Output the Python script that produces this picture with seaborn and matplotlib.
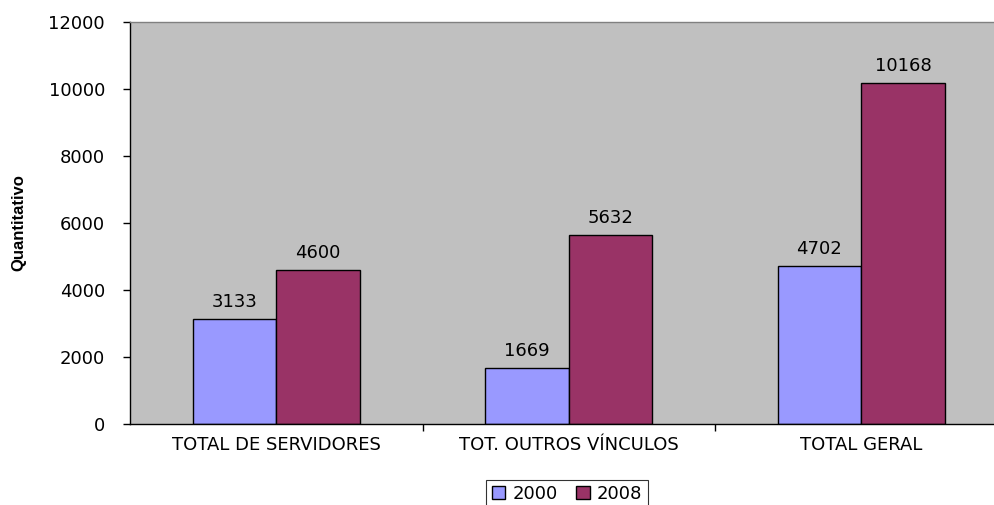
import matplotlib
matplotlib.use("Agg")
import matplotlib.pyplot as plt
import seaborn as sns
import pandas as pd

categories = ["TOTAL DE SERVIDORES", "TOT. OUTROS VÍNCULOS", "TOTAL GERAL"]
years = ["2000", "2008"]
values_2000 = [3133, 1669, 4702]
values_2008 = [4600, 5632, 10168]
colors = ["#9999FF", "#993366"]

df = pd.DataFrame({
    "cat": categories * 2,
    "year": [years[0]] * 3 + [years[1]] * 3,
    "val": values_2000 + values_2008,
})

sns.set_style("white")
plt.rcParams["font.family"] = ["DejaVu Sans"]
plt.rcParams["text.color"] = "black"

FS = 13

fig = plt.figure(figsize=(9.94, 5.05), dpi=100)
ax = fig.add_axes([130 / 994, 1 - 424 / 505, 877.5 / 994, 402 / 505])
ax.set_facecolor("#C0C0C0")

sns.barplot(data=df, x="cat", y="val", hue="year", palette=colors, width=0.572,
            edgecolor="black", linewidth=1.0, saturation=1, ax=ax, legend=True)

for cont in ax.containers:
    ax.bar_label(cont, labels=[f"{int(v)}" for v in cont.datavalues], padding=6,
                 fontsize=FS, color="black")

ax.set_xlim(-0.5, 2.5)
ax.set_ylim(0, 12000)
ax.set_yticks(range(0, 12001, 2000))
ax.tick_params(axis="y", labelsize=FS, length=5, width=1, color="black", direction="out",
               left=True, labelcolor="black", pad=13)
ax.tick_params(axis="x", labelsize=FS, length=0, pad=9, labelcolor="black")
ax.set_xticks([0.5, 1.5], minor=True)
ax.tick_params(axis="x", which="minor", length=5, width=1, color="black", direction="out", bottom=True)
ax.set_xlabel("")
ax.set_ylabel("Quantitativo", fontsize=12, fontweight="bold",
              family="Liberation Sans", color="black")
ax.yaxis.set_label_coords((26 - 130) / 877.5, 0.5 + (424 - 223 - 201) / 402)

for s in ["left", "bottom"]:
    ax.spines[s].set_color("black")
    ax.spines[s].set_linewidth(1.0)
ax.spines["top"].set_color("#808080")
ax.spines["top"].set_linewidth(1.0)
ax.spines["right"].set_visible(False)

handles, labels = ax.get_legend_handles_labels()
ax.legend(handles, labels, loc="center", bbox_to_anchor=(567 / 994, 1 - 494 / 505),
          bbox_transform=fig.transFigure, ncol=2, frameon=True, fancybox=False,
          edgecolor="black", fontsize=FS, handlelength=0.75, handleheight=0.75,
          handletextpad=0.4, columnspacing=1.0, borderpad=0.3, borderaxespad=0)
leg = ax.get_legend()
leg.get_frame().set_linewidth(0.8)

fig.savefig("out.png", dpi=100)
